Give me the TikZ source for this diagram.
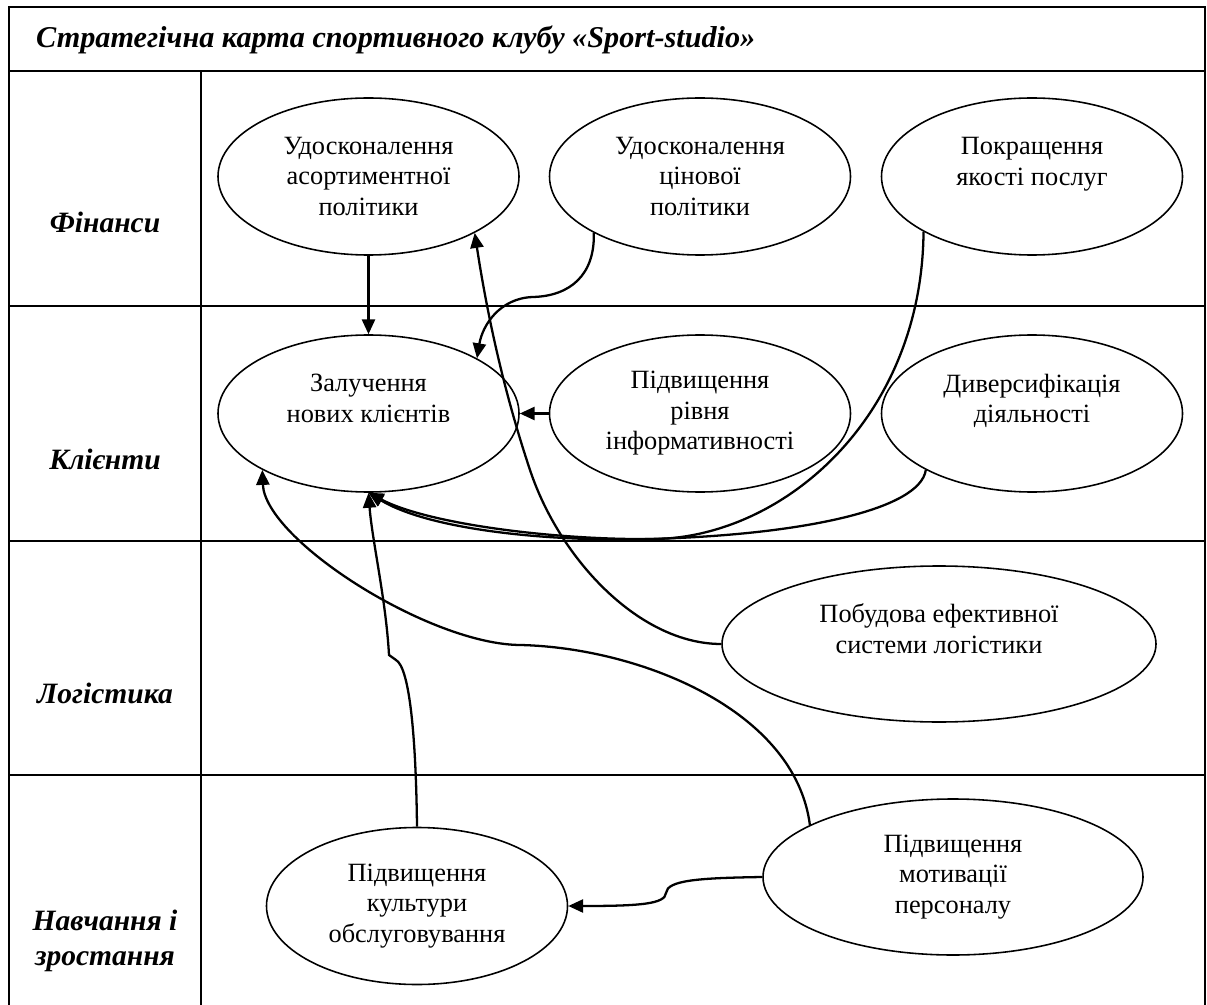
\documentclass[tikz,border=0pt]{standalone}
\usepackage{fontspec}
\setmainfont{Liberation Serif}
\usepackage{tikz}
\usetikzlibrary{arrows.meta,positioning,shapes.geometric,calc}

\begin{document}
\begin{tikzpicture}[
  goal/.style={ellipse, draw, line width=0.9pt, minimum width=6.02cm, minimum height=3.14cm,
               inner sep=0pt, align=center, font=\fontsize{15}{17.4}\selectfont},
  persp/.style={align=center, font=\fontsize{16.8}{19.6}\selectfont\bfseries\itshape},
  grid/.style={line width=1.3pt},
  link/.style={line width=1.3pt},
  >={Triangle[length=8.5pt,width=7.5pt]}
]
\useasboundingbox (0,0) rectangle (24.14,-20.10);

% Table
\draw[grid] (0.18,-20.10) -- (0.18,-0.14) -- (24.10,-0.14) -- (24.10,-20.10);
\draw[grid] (0.18,-1.42) -- (24.10,-1.42);
\draw[grid] (0.18,-6.12) -- (24.10,-6.12);
\draw[grid] (0.18,-10.82) -- (24.10,-10.82);
\draw[grid] (0.18,-15.50) -- (24.10,-15.50);
\draw[grid] (4.02,-1.42) -- (4.02,-20.10);

\node[persp, anchor=west, font=\fontsize{17.2}{20}\selectfont\bfseries\itshape] (title)
  at (0.60,-0.80) {Стратегічна карта спортивного клубу «Sport-studio»};

% Perspectives
\node[persp] (fin) at (2.10,-4.44)  {Фінанси};
\node[persp] (kli) at (2.10,-9.18)  {Клієнти};
\node[persp] (lgs) at (2.10,-13.86) {Логістика};
\node[persp] (nav) at (2.10,-18.82) {Навчання і\\зростання};

% Goals
\node[goal] (asort) at (7.37,-3.53)  {Удосконалення\\асортиментної\\політики};
\node[goal] (cin)   at (14.00,-3.53) {Удосконалення\\цінової\\політики};
\node[goal] (pokr)  at (20.64,-3.53) {Покращення\\якості послуг\\\mbox{}};
\node[goal] (zal)   at (7.37,-8.27)  {Залучення\\нових клієнтів\\\mbox{}};
\node[goal] (info)  at (14.00,-8.27) {Підвищення\\рівня\\інформативності};
\node[goal] (dyv)   at (20.64,-8.27) {Диверсифікація\\діяльності\\\mbox{}};
\node[goal, minimum width=8.68cm, minimum height=3.12cm] (logi) at (18.78,-12.88)
  {Побудова ефективної\\системи логістики\\\mbox{}};
\node[goal] (kult)  at (8.34,-18.12) {Підвищення\\культури\\обслуговування};
\node[goal, minimum width=7.6cm, minimum height=3.12cm] (mot) at (19.06,-17.54)
  {Підвищення\\мотивації\\персоналу};

\coordinate (merge) at (13.0,-10.78);

% Links
\draw[link,->] (asort.south) -- (zal.north);
\draw[link,->] (info.west) -- (zal.east);
\draw[link,->] (cin.208) .. controls (11.9,-5.5) and (11.4,-5.92) .. (10.66,-5.94)
  .. controls (10.0,-5.96) and (9.65,-6.5) .. (zal.27);
\draw[link,->] (logi.west) .. controls (12.8,-12.88) and (11.2,-11.2) .. (10.6,-9.4)
  .. controls (10.0,-7.6) and (9.7,-6.0) .. (asort.332);
\draw[link,->] (mot.160) .. controls (15.9,-14.2) and (12.8,-12.96) .. (10.42,-12.9)
  .. controls (8.6,-12.9) and (5.3,-10.8) .. (zal.208);
\draw[link,->] (kult.north) .. controls (8.32,-14.8) and (8.2,-13.36) .. (7.92,-13.2)
  -- (7.78,-13.1) .. controls (7.72,-12.0) and (7.44,-10.8) .. (zal.south);
\draw[link,->] (mot.west) .. controls (14.0,-17.56) and (13.34,-17.6) .. (13.32,-17.86)
  .. controls (13.3,-18.08) and (12.8,-18.12) .. (kult.east);
\draw[link,->] (pokr.207) .. controls (18.44,-8.4) and (15.6,-10.8) .. (merge)
  .. controls (11.2,-10.8) and (8.6,-10.5) .. (zal.south);
\draw[link,->] (dyv.208) .. controls (18.4,-10.2) and (16.0,-10.7) .. (merge)
  .. controls (11.0,-10.84) and (8.6,-10.6) .. (zal.south);
\end{tikzpicture}
\end{document}
